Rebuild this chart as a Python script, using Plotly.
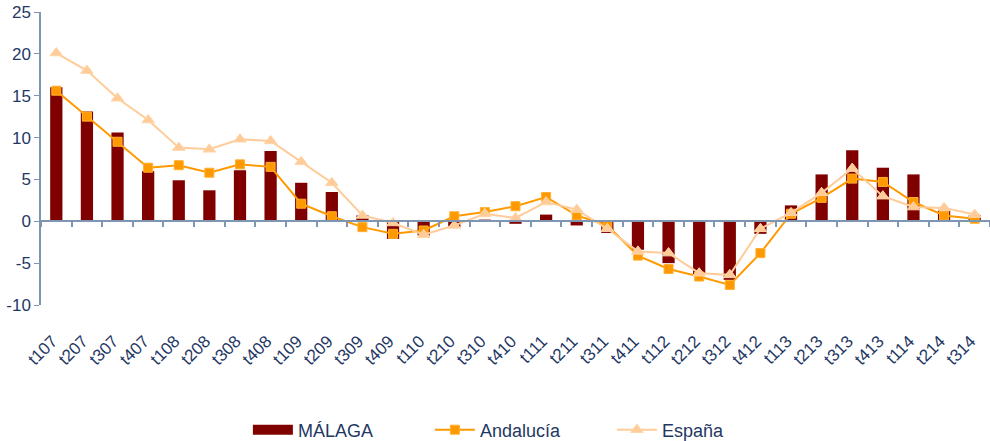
import plotly.graph_objects as go

# Quarterly periods
quarters = ["t107", "t207", "t307", "t407", "t108", "t208", "t308", "t408",
            "t109", "t209", "t309", "t409", "t110", "t210", "t310", "t410",
            "t111", "t211", "t311", "t411", "t112", "t212", "t312", "t412",
            "t113", "t213", "t313", "t413", "t114", "t214", "t314"]

# Year-on-year rates (%)
malaga = [16.0, 13.1, 10.6, 6.0, 4.9, 3.7, 6.1, 8.4,
          4.6, 3.5, 0.7, -2.1, -1.7, -0.7, 0.2, -0.3,
          0.8, -0.5, -1.4, -3.4, -5.0, -6.3, -7.0, -1.5,
          1.9, 5.6, 8.5, 6.4, 5.6, 1.5, 0.7]
andalucia = [15.6, 12.5, 9.5, 6.4, 6.7, 5.8, 6.8, 6.5,
             2.1, 0.6, -0.7, -1.5, -1.1, 0.6, 1.1, 1.8,
             2.9, 0.7, -0.5, -4.1, -5.7, -6.6, -7.6, -3.8,
             0.9, 2.8, 5.1, 4.7, 2.3, 0.7, 0.3]
espana = [20.1, 18.0, 14.7, 12.1, 8.8, 8.6, 9.8, 9.6,
          7.1, 4.6, 0.7, -0.2, -1.6, -0.5, 0.9, 0.4,
          2.3, 1.4, -0.9, -3.6, -3.8, -6.2, -6.4, -0.9,
          1.0, 3.4, 6.3, 3.0, 1.7, 1.6, 0.8]

y_ticks = [-10, -5, 0, 5, 10, 15, 20, 25]
y_tick_text = ["-10", "-5", "0", "5", "10", "15", "20", "25"]

TEXT = "#1f3864"
AXIS = "#7f96b2"
FONT = "Liberation Sans, Arial, sans-serif"
MAROON = "#800000"

fig = go.Figure()
# Legend swatch for the bar series (wide block, like the bar key)
fig.add_trace(go.Scatter(x=[None], y=[None], name="MÁLAGA", mode="lines",
                         line=dict(color=MAROON, width=14), hoverinfo="skip"))
fig.add_trace(go.Bar(x=quarters, y=malaga, name="MÁLAGA", showlegend=False,
                     marker=dict(color=MAROON, line=dict(width=0))))
fig.add_trace(go.Scatter(x=quarters, y=andalucia, name="Andalucía",
                         mode="lines+markers",
                         line=dict(color="#ff9900", width=2),
                         marker=dict(symbol="square", size=9, color="#ff9900",
                                     line=dict(color="#ffb030", width=1))))
fig.add_trace(go.Scatter(x=quarters, y=espana, name="España",
                         mode="lines+markers",
                         line=dict(color="#ffcc99", width=2),
                         marker=dict(symbol="triangle-up", size=11, color="#ffcc99",
                                     line=dict(color="#ffd4a8", width=1))))
# Invisible carrier for the bottom label axis
fig.add_trace(go.Scatter(x=quarters, y=[0] * len(quarters), xaxis="x2",
                         mode="markers", marker=dict(opacity=0),
                         hoverinfo="skip", showlegend=False))

zero_pos = (0 - y_ticks[0]) / (y_ticks[-1] - y_ticks[0])

fig.update_layout(
    width=990, height=441,
    margin=dict(l=41, r=0, t=12, b=136, autoexpand=False),
    paper_bgcolor="white", plot_bgcolor="white",
    font=dict(family=FONT, size=16, color=TEXT),
    bargap=0.6,
    showlegend=True,
    legend=dict(orientation="h", x=0.218, xanchor="left",
                yref="container", y=0.025, yanchor="middle",
                font=dict(family=FONT, size=18, color=TEXT),
                entrywidth=127, itemwidth=40),
    xaxis=dict(type="category", categoryarray=quarters,
               anchor="free", position=zero_pos,
               showline=True, linecolor=AXIS, linewidth=2,
               ticks="outside", tickson="boundaries", ticklen=5,
               tickcolor=AXIS, tickwidth=1.5,
               showticklabels=False, showgrid=False, zeroline=False,
               range=[-0.5, len(quarters) - 0.5]),
    xaxis2=dict(type="category", categoryarray=quarters,
                overlaying="x", matches="x", anchor="y", side="bottom",
                showline=False, ticks="", showgrid=False, zeroline=False,
                tickangle=-45, tickfont=dict(size=17, color=TEXT),
                ticklabelstandoff=22, ticklabelshift=-4),
    yaxis=dict(range=[y_ticks[0], y_ticks[-1]], tickvals=y_ticks,
               ticktext=y_tick_text,
               showline=True, linecolor=AXIS, linewidth=1.5,
               ticks="outside", ticklen=5, tickcolor=AXIS,
               showgrid=False, zeroline=False,
               tickfont=dict(size=17, color=TEXT)),
)

fig.write_html("out.html")
